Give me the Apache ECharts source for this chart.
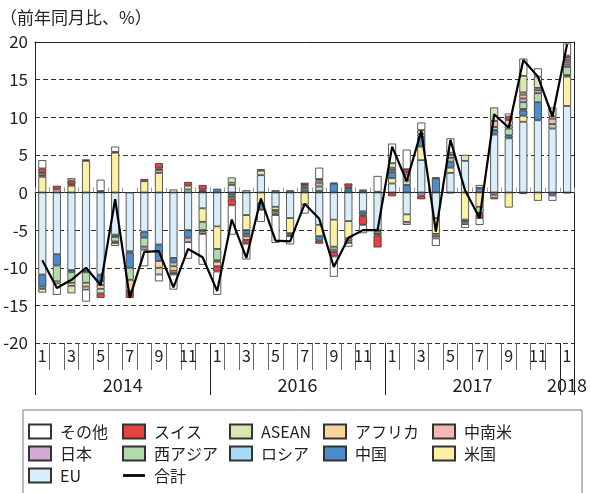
<!DOCTYPE html>
<html>
<head>
<meta charset="utf-8">
<script src="https://cdn.jsdelivr.net/npm/echarts@6/dist/echarts.min.js"></script>
<style>
  html, body { margin: 0; padding: 0; background: #fff; }
  #chart { width: 590px; height: 493px; }
</style>
</head>
<body>
<div id="chart"></div>
<script>
// months: 2014/1-12, 2016/1-12 (as labelled), 2017/1-12, 2018/1
const months = [];
for (let i = 0; i < 37; i++) months.push('m' + i);
const monthLabels = ['1','2','3','4','5','6','7','8','9','10','11','12',
                     '1','2','3','4','5','6','7','8','9','10','11','12',
                     '1','2','3','4','5','6','7','8','9','10','11','12',
                     '1'];
const yearNames = ['2014', '2016', '2017', '2018'];

const eu      = [-10.9,-8.2,-10.3,-10.4,-10.9,-5.6,-7.8,-5.2,-6.9,-8.7,-5.0,-2.1,
                 -4.5,1.0,-3.0,2.3,-1.9,-3.4,0,-4.3,-3.6,-3.8,-2.5,-5.0,
                 1.2,-2.9,4.3,-3.4,2.6,4.2,0,7.7,7.2,9.4,9.6,8.5,11.5];
const usa     = [2.1,0,0.9,4.2,0,5.3,-0.2,1.5,2.6,0.4,0,-1.8,
                 -3.0,0.3,-2.0,-1.4,-0.4,-2.0,-1.6,-1.5,-3.6,-2.3,0,0,
                 0.7,-1.0,1.8,-2.1,0.7,-3.6,-1.9,0,-2.0,0.8,-1.1,0,3.9];
const china   = [-1.6,-1.5,-0.3,-0.2,-0.9,-0.3,-2.0,-0.8,-2.2,-0.6,-1.0,0.2,
                 0.5,-0.3,-0.5,-0.9,0.3,0.3,0.3,-0.6,1.2,0.4,-0.4,-0.2,
                 0.8,1.0,1.3,1.9,0.8,-0.3,0.6,0.6,0.4,0.7,2.4,-0.4,0.2];
const russia  = [0,0,0,0,0,0,0,0,0,0,0,0,
                 0,0,0,0,0,0,0,0.2,0,0,0,0,
                 0,0,0,0,0,0,0,0,0,0.2,0,0,-0.1];
const westAsia= [-0.3,-2.1,-1.4,-1.4,-0.5,-0.6,-1.6,-1.2,0,-0.5,0.4,-1.1,
                 -1.5,0,-0.3,0,-0.2,-0.2,0.3,0.6,-0.4,-0.3,-0.2,-0.3,
                 0.3,0.6,0.4,-0.3,0.5,-0.3,-0.8,0.4,0.9,0.9,1.2,0.6,1.1];
const japan   = [0.2,0,0,0,0.2,-0.2,0,-0.4,0.4,0,-0.6,0,
                 -0.2,-0.3,0,0,-0.3,-0.2,0,0.5,-0.3,0.2,0.2,0.1,
                 0.3,-0.4,-0.4,0,0.4,0,-0.2,-0.3,0,0.5,0.4,0,0.3];
const latam   = [0.3,0.4,0.2,0,0,0,0,0,0.2,0,0,-0.2,
                 0,0,-0.5,0,0,0,0,0,0,0,0,0,
                 0,0.8,0,0,0,0,0,0.8,0.4,0.5,0.3,0.7,0.3];
const africa  = [0,0,-0.4,-0.5,-0.5,0,-1.5,0,-0.9,-0.6,0,-0.3,
                 -0.6,-0.3,0,0,-0.2,0,0.2,0.3,0,-0.3,0,-0.2,
                 0,0.3,0,0,0,0,0,-0.4,0,0.3,0,0.3,0.3];
const asean   = [-0.5,-0.3,-1.0,-0.4,-0.6,-0.4,0,0,-0.9,-0.3,0.5,0.2,
                 0,0.7,0.3,0.6,0,0,0.2,0.2,0.1,0.2,0.2,0,
                 0.6,0,0.5,-0.3,0.3,0.8,0.4,1.8,0.7,2.2,1.5,1.2,0.3];
const swiss   = [0.6,0.5,0.5,0.2,-0.6,0.1,-0.9,0.3,0.7,-0.2,0.5,0.6,
                 -0.7,-0.8,-0.5,0.2,0,0,0.3,-0.4,-0.6,0.4,-1.2,-1.6,
                 -0.5,0.4,-0.5,0.1,-0.1,0,-0.5,0,0.5,-0.2,0,0,0.3];
const others  = [1.1,-1.5,0.3,-1.6,1.5,0.7,0,-2.2,-0.9,-2.0,-2.2,-4.1,
                 -3.1,-3.9,-2.1,-1.6,-3.7,-1.1,-1.2,1.5,-2.7,-0.5,-1.1,2.1,
                 2.6,2.6,1.0,-1.0,1.9,-0.5,-0.9,-0.2,0.4,2.3,1.1,-0.7,1.6];
const total   = [-9.0,-12.7,-11.6,-10.0,-12.3,-0.9,-14.0,-7.9,-7.8,-12.6,-7.5,-8.6,
                 -13.1,-3.6,-8.7,-0.8,-6.4,-6.5,-1.5,-3.5,-9.9,-6.0,-5.0,-5.0,
                 6.1,1.5,8.2,-5.2,7.0,0.3,-3.4,10.4,8.6,17.6,15.4,10.1,19.7];

// stacked outward from zero in this order
const barSeries = [
  { name: 'EU',     data: eu,       color: '#d9eefa' },
  { name: '米国',   data: usa,      color: '#fdf0a4' },
  { name: '中国',   data: china,    color: '#4e8cc9' },
  { name: 'ロシア', data: russia,   color: '#a7dcf4' },
  { name: '西アジア', data: westAsia, color: '#b3dbaa' },
  { name: '日本',   data: japan,    color: '#d2acd6' },
  { name: '中南米', data: latam,    color: '#f5b9b5' },
  { name: 'アフリカ', data: africa, color: '#fad49c' },
  { name: 'ASEAN',  data: asean,    color: '#d7e8b1' },
  { name: 'スイス', data: swiss,    color: '#e8423f' },
  { name: 'その他', data: others,   color: '#ffffff' }
];

const yearRow = months.map(() => '');
yearRow[5] = '{mid|' + yearNames[0] + '}';
yearRow[17] = '{mid|' + yearNames[1] + '}';
yearRow[29] = '{mid|' + yearNames[2] + '}';
yearRow[36] = yearNames[3];

const legendCols = [
  { left: 28,  names: ['その他', '日本', 'EU'] },
  { left: 122, names: ['スイス', '西アジア', '合計'] },
  { left: 229, names: ['ASEAN', 'ロシア'] },
  { left: 323, names: ['アフリカ', '中国'] },
  { left: 432, names: ['中南米', '米国'] }
];

const chart = echarts.init(document.getElementById('chart'));

const series = barSeries.map(s => ({
  name: s.name,
  type: 'bar',
  stack: 'all',
  barWidth: 8,
  xAxisIndex: 0,
  yAxisIndex: 0,
  itemStyle: { color: s.color, borderColor: '#333', borderWidth: 0.8 },
  data: s.data.map(v => (v === 0 ? '-' : v))
}));
series.push({
  name: '合計',
  type: 'line',
  xAxisIndex: 0,
  yAxisIndex: 0,
  symbol: 'none',
  z: 10,
  itemStyle: { color: '#000' },
  lineStyle: { color: '#000', width: 2.2 },
  data: total
});

const option = {
  animation: false,
  textStyle: { fontFamily: '"Noto Sans CJK JP", "Noto Sans", sans-serif' },
  title: {
    text: '（前年同月比、%）',
    left: 0,
    top: 9,
    padding: 0,
    textStyle: { fontSize: 17, fontWeight: 'normal', color: '#222' }
  },
  grid: { left: 35, right: 13, top: 42, bottom: 150 },
  graphic: [{
    type: 'rect',
    shape: { x: 23, y: 410, width: 559, height: 100 },
    style: { fill: 'none', stroke: '#777', lineWidth: 1 }
  }],
  legend: legendCols.map(c => ({
    orient: 'vertical',
    left: c.left,
    top: 423,
    height: 70,
    padding: 0,
    icon: 'rect',
    itemWidth: 22,
    itemHeight: 14,
    itemGap: 5,
    selectedMode: false,
    data: c.names.map(n => (n === '合計'
      ? { name: n, icon: 'path://M0,0H24V3H0Z', itemStyle: { color: '#000', borderWidth: 0 } }
      : n)),
    textStyle: { fontSize: 16, color: '#222', lineHeight: 17, padding: [0, 0, 0, 4] }
  })),
  xAxis: [
    {
      type: 'category', data: months, position: 'bottom',
      axisLine: { onZero: true, lineStyle: { color: '#222', width: 1 } },
      axisTick: { show: true, inside: true, length: 5, interval: 0, lineStyle: { color: '#999' } },
      axisLabel: { show: false }
    },
    {
      type: 'category', data: monthLabels, position: 'bottom',
      axisLine: { show: false, onZero: false },
      axisTick: { show: true, length: 27, interval: 0, lineStyle: { color: '#666' } },
      axisLabel: { interval: 1, fontSize: 16, margin: 5, color: '#222' }
    },
    {
      type: 'category', data: yearRow, position: 'bottom',
      axisLine: { show: false, onZero: false },
      axisTick: { show: true, length: 52, interval: (i) => i % 12 === 0, lineStyle: { color: '#222' } },
      axisLabel: {
        interval: 0, fontSize: 18, margin: 33, color: '#222',
        rich: { mid: { fontSize: 18, color: '#222', padding: [0, 0, 0, 15] } }
      }
    },
    {
      type: 'category', data: months, position: 'top',
      axisLine: { onZero: false, lineStyle: { color: '#222' } },
      axisTick: { show: false },
      axisLabel: { show: false }
    }
  ],
  yAxis: [
    {
      type: 'value', min: -20, max: 20, interval: 5,
      axisLine: { show: true, lineStyle: { color: '#222' } },
      axisTick: { show: false },
      axisLabel: { fontSize: 17, color: '#222', margin: 7 },
      splitLine: { lineStyle: { type: [5, 3], color: '#333' } }
    },
    {
      type: 'value', min: -20, max: 20, interval: 5, position: 'right',
      axisLine: { show: true, lineStyle: { color: '#222' } },
      axisTick: { show: false },
      axisLabel: { show: false },
      splitLine: { show: false }
    }
  ],
  series: series
};

chart.setOption(option);
window.addEventListener('resize', () => chart.resize());
</script>
</body>
</html>
